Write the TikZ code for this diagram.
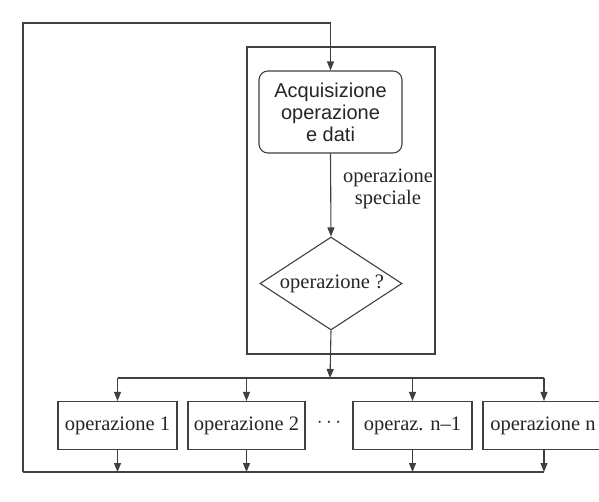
\documentclass[tikz,border=0pt]{standalone}
\usepackage{fontspec}
\setmainfont{Liberation Serif}
\newfontfamily\helv{Liberation Sans}
\usetikzlibrary{shapes.geometric,arrows.meta}
\begin{document}
\begin{tikzpicture}[x=1pt,y=-1pt,
  line/.style={draw=black!75,line width=1.1pt},
  arr/.style={line,-{Triangle[width=7pt,length=9pt]}},
  opbox/.style={line,rectangle,minimum height=48pt,inner sep=0pt,
    font=\fontsize{20.5}{22}\selectfont,text=black!85},
  serif/.style={font=\fontsize{20.5}{22}\selectfont,text=black!85}]
\clip (0,0) rectangle (599,501);
\fill[white] (0,0) rectangle (599,501);

% frame around acquisition and decision
\node[line,rectangle,minimum width=188pt,minimum height=307pt,inner sep=0pt] (frame) at (341,200.5) {};

\node[line,rectangle,rounded corners=9pt,minimum width=143pt,minimum height=82pt,
  inner sep=0pt,align=center,font=\helv\fontsize{20}{22}\selectfont,text=black!85]
  (acq) at (330.5,112) {Acquisizione\\operazione\\e dati};

\node[line,diamond,minimum width=142pt,minimum height=93pt,inner sep=0pt] (dia) at (331,283.5) {};
\node[serif,inner sep=0pt] (diatext) at (332,284) {operazione ?};

\node[serif,align=center,inner sep=0pt] (speciale) at (388,189) {operazione\\speciale};

% operation boxes
\node[opbox,minimum width=119pt] (b1) at (117.5,425.5) {operazione 1};
\node[opbox,minimum width=117pt] (b2) at (246.5,425.5) {operazione 2};
\node[opbox,minimum width=119pt] (b3) at (412.5,425.5) {operaz. n--1};
\node[opbox,minimum width=122pt] (b4) at (544,425.5) {\hspace*{-2pt}operazione n};
\node[serif,inner sep=0pt] (dots) at (329,423) {$\cdots$};

% routing points
\coordinate (bus) at (330,378);
\coordinate (bl) at (23,472);
\coordinate (tl) at (23,23);

\draw[arr] (acq.south) -- (dia.north);
\draw[arr] (dia.south) -- (bus);
\draw[line] (b1.north |- bus) -- (b4.north |- bus);
\foreach \b in {b1,b2,b3,b4}{
  \draw[arr] (\b.north |- bus) -- (\b.north);
  \draw[arr] (\b.south) -- (\b.south |- bl);
}
\draw[line] (b4.south |- bl) -- (bl);
\draw[arr] (bl) -- (tl) -| (acq.north);
\end{tikzpicture}
\end{document}
